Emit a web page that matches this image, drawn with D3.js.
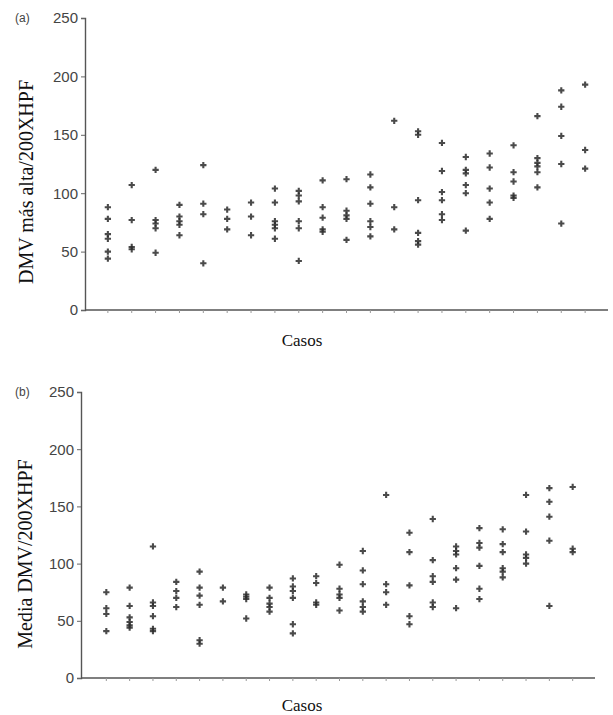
<!DOCTYPE html>
<html>
<head>
<meta charset="utf-8">
<script src="https://cdn.jsdelivr.net/npm/d3@7"></script>
<style>
  html, body { margin: 0; padding: 0; background: #fff; }
  svg { display: block; }
  .tick-lbl { font-family: "Liberation Sans", Arial, sans-serif; font-size: 15px; fill: #444; }
  .panel-tag { font-family: "Liberation Sans", Arial, sans-serif; font-size: 12px; fill: #444; }
</style>
</head>
<body>
<svg id="chart" width="613" height="715"></svg>
<script>
/* ── Data ─────────────────────────────────────────────────────────────── */
const caseIds = d3.range(1, 22);
const yTicks  = [0, 50, 100, 150, 200, 250];

// (a) highest MVD per 200X HPF, one list per case
const dmvMax = [
  [88, 78, 65, 61, 50, 44],
  [107, 77, 54, 52],
  [120, 77, 74, 70, 49],
  [90, 80, 76, 73, 64],
  [124, 91, 82, 40],
  [86, 78, 69],
  [92, 80, 64],
  [104, 92, 76, 73, 70, 61],
  [102, 98, 93, 76, 70, 42],
  [111, 88, 79, 69, 67],
  [112, 85, 81, 78, 60],
  [116, 105, 91, 76, 71, 63],
  [162, 88, 69],
  [153, 150, 94, 66, 59, 56],
  [143, 119, 101, 94, 82, 77],
  [131, 120, 117, 107, 100, 68],
  [134, 122, 104, 92, 78],
  [141, 118, 110, 98, 96],
  [166, 130, 126, 123, 118, 105],
  [188, 174, 149, 125, 74],
  [193, 137, 121]
];

// (b) mean MVD per 200X HPF, one list per case
const dmvMean = [
  [75, 61, 56, 41],
  [79, 63, 53, 49, 46, 44],
  [115, 66, 63, 54, 43, 41],
  [84, 76, 70, 62],
  [93, 79, 72, 64, 33, 30],
  [79, 67],
  [73, 71, 69, 52],
  [79, 70, 65, 62, 58],
  [87, 80, 76, 70, 47, 39],
  [89, 83, 66, 64],
  [99, 78, 73, 70, 59],
  [111, 94, 82, 67, 62, 58],
  [160, 82, 75, 64],
  [127, 110, 81, 54, 47],
  [139, 103, 89, 84, 66, 62],
  [115, 111, 108, 96, 86, 61],
  [131, 118, 114, 98, 78, 69],
  [130, 117, 110, 96, 93, 88],
  [160, 128, 108, 105, 100],
  [166, 154, 141, 120, 63],
  [167, 113, 110]
];

/* ── Panels ───────────────────────────────────────────────────────────── */
const panels = [
  { tag: '(a)', data: dmvMax,  yLabel: 'DMV más alta/200XHPF',
    axisX: 85, xRange: [84, 609], xEnd: 608, yRange: [310, 18],
    tagPos: [15, 22], yLabPos: [33, 182], xLabY: 346 },
  { tag: '(b)', data: dmvMean, yLabel: 'Media DMV/200XHPF',
    axisX: 81, xRange: [83, 596], xEnd: 595, yRange: [678, 392],
    tagPos: [15, 396], yLabPos: [32, 554], xLabY: 711 }
];

const serif = '"Liberation Serif", "Times New Roman", serif';
const svg = d3.select('#chart');

panels.forEach(p => {
  const g = svg.append('g');
  const x = d3.scaleLinear().domain([0, 22]).range(p.xRange);
  const y = d3.scaleLinear().domain([0, 250]).range(p.yRange);

  // y axis
  const yAx = g.append('g').attr('transform', `translate(${p.axisX},0)`)
    .call(d3.axisLeft(y).tickValues(yTicks).tickSize(4).tickPadding(3));
  yAx.attr('font-family', null).attr('font-size', null);
  yAx.select('.domain').attr('stroke', '#555').attr('stroke-width', 1.4);
  yAx.selectAll('.tick line').attr('stroke', '#666');
  yAx.selectAll('.tick text').attr('class', 'tick-lbl');

  // x axis (no labels, faint ticks per case)
  g.append('line')
    .attr('x1', p.axisX).attr('x2', p.xEnd)
    .attr('y1', y(0)).attr('y2', y(0))
    .attr('stroke', '#555').attr('stroke-width', 1.6);
  g.selectAll('.xt').data(caseIds).join('line')
    .attr('x1', d => x(d)).attr('x2', d => x(d))
    .attr('y1', y(0)).attr('y2', y(0) + 3)
    .attr('stroke', '#999').attr('stroke-width', 1);

  // points
  const pts = p.data.flatMap((vals, i) => vals.map(v => ({ c: caseIds[i], v })));
  const sym = d3.symbol().type(d3.symbolCross).size(22);
  g.selectAll('.pt').data(pts).join('path')
    .attr('d', sym)
    .attr('transform', d => `translate(${x(d.c)},${y(d.v)})`)
    .attr('fill', '#2a2a2a').attr('opacity', 0.85);

  // labels
  g.append('text').attr('class', 'panel-tag')
    .attr('x', p.tagPos[0]).attr('y', p.tagPos[1]).text(p.tag);
  g.append('text')
    .attr('font-family', serif).attr('font-size', 20).attr('fill', '#111')
    .attr('text-anchor', 'middle')
    .attr('transform', `translate(${p.yLabPos[0]},${p.yLabPos[1]}) rotate(-90)`)
    .text(p.yLabel);
  g.append('text')
    .attr('font-family', serif).attr('font-size', 17).attr('fill', '#111')
    .attr('text-anchor', 'middle')
    .attr('x', 302).attr('y', p.xLabY)
    .text('Casos');
});
</script>
</body>
</html>
